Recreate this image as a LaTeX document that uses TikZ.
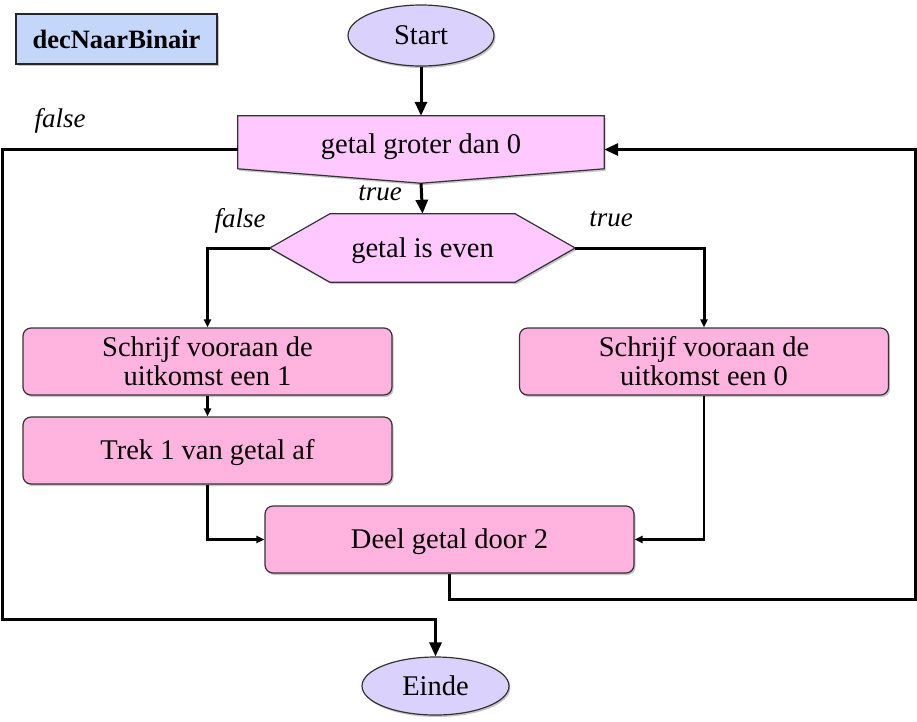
\documentclass[tikz,border=0pt]{standalone}
\usepackage{fontspec}
\setmainfont{Liberation Serif}
\usetikzlibrary{shapes.geometric,arrows.meta,backgrounds,shadows,calc}
\definecolor{titlefill}{HTML}{C4D6FA}
\definecolor{ovalfill}{HTML}{DAD2FC}
\definecolor{condfill}{HTML}{FFC8FF}
\definecolor{boxfill}{HTML}{FFB3DE}
\definecolor{edgecol}{HTML}{333333}
\begin{document}
\begin{tikzpicture}[x=1pt,y=-1pt,
  txt/.style={font=\fontsize{28.5}{29}\selectfont, text=black, align=center},
  lbl/.style={font=\fontsize{27}{29}\selectfont\itshape, inner sep=0},
  shad/.style={drop shadow={shadow xshift=1.5pt, shadow yshift=-2pt, opacity=0.45}},
  lower/.style={text height=25pt},
  oval/.style={txt, ellipse, draw=edgecol, line width=1.2pt, fill=ovalfill, inner sep=0, shad},
  procbox/.style={txt, rectangle, rounded corners=8pt, draw=edgecol, line width=1.2pt, fill=boxfill, inner sep=0, minimum width=369, minimum height=67, shad},
  titlebox/.style={txt, font=\fontsize{26.5}{29}\selectfont\bfseries, rectangle, draw=black!85, line width=1.4pt, fill=titlefill, inner sep=0, minimum width=201, minimum height=50, shad},
  frame/.style={txt, rectangle, inner sep=0},
  shapefill/.style={draw=edgecol, line width=1.2pt, fill=condfill, shad},
  conn/.style={draw=black, line width=3pt},
  bigarrow/.style={conn, -{Triangle[length=14pt,width=12pt]}},
  smallarrow/.style={conn, line width=2.6pt, -{Triangle[length=8pt,width=7pt]}}
]
\useasboundingbox (0,0) rectangle (917,721);

% nodes
\node[titlebox] (title) at (116.5,39) {decNaarBinair};
\node[oval, minimum width=146, minimum height=61] (start) at (421,35.5) {Start};
\node[frame, minimum width=366, minimum height=67, text depth=12pt] (cond) at (421,149.5) {getal groter dan 0};
\node[frame, lower, minimum width=305, minimum height=68] (even) at (422.5,248) {getal is even};
\node[procbox] (b1) at (207.5,361.5) {Schrijf vooraan de\\uitkomst een 1};
\node[procbox] (b0) at (704,361.5) {Schrijf vooraan de\\uitkomst een 0};
\node[procbox, lower] (b2) at (207.5,450.5) {Trek 1 van getal af};
\node[procbox, lower] (deel) at (449.5,539.5) {Deel getal door 2};
\node[oval, minimum width=147, minimum height=58] (einde) at (435.5,686) {Einde};

% labels
\node[lbl] (lfalse1) at (60,121) {false};
\node[lbl] (ltrue1) at (380,193) {true};
\node[lbl] (lfalse2) at (240,221) {false};
\node[lbl] (ltrue2) at (611,219) {true};

% shapes behind texts
\begin{pgfonlayer}{background}
\path[shapefill] (cond.north west) -- (cond.north east) -- ($(cond.north east)+(0,53)$)
  -- (cond.south) -- ($(cond.north west)+(0,53)$) -- cycle;
\path[shapefill] (even.west) -- ($(even.north west)+(60,0)$) -- ($(even.north east)+(-60,0)$)
  -- (even.east) -- ($(even.south east)+(-60,0)$) -- ($(even.south west)+(60,0)$) -- cycle;
\end{pgfonlayer}

% connectors
\draw[bigarrow] (start.south) -- (cond.north);
\draw[bigarrow] (cond.south) -- (even.north);
\draw[smallarrow, line width=3pt] (even.west) -| (b1.north);
\draw[smallarrow, line width=3pt] (even.east) -| (b0.north);
\draw[smallarrow] (b1.south) -- (b2.north);
\draw[smallarrow] (b2.south) |- (deel.west);
\draw[smallarrow] (b0.south) |- (deel.east);
\draw[bigarrow] (deel.south) -- ++(0,26) -- ++(465.5,0) |- (cond.east);
\draw[bigarrow] (cond.west) -- ++(-235,0) -- ++(0,469.5) -| (einde.north);
\end{tikzpicture}
\end{document}
